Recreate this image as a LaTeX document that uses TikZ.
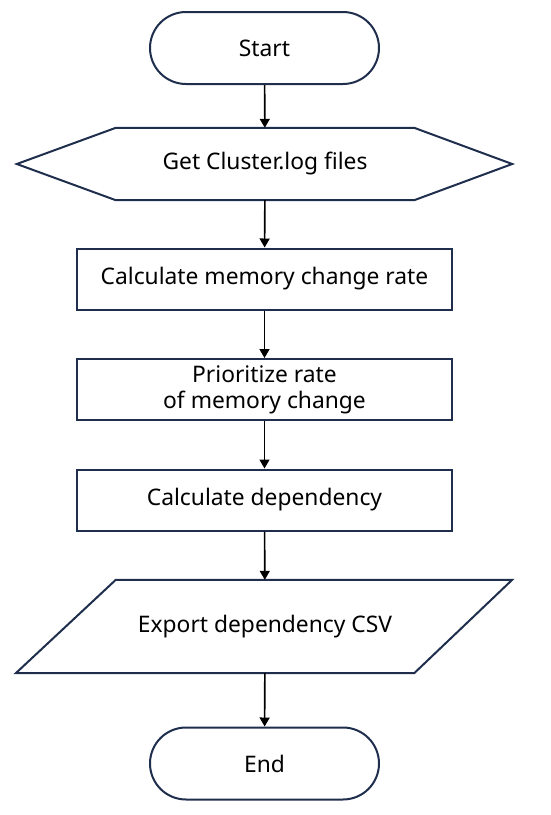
\documentclass[tikz,border=0pt]{standalone}
\usepackage{fontspec}
\setmainfont{Noto Sans}
\usetikzlibrary{arrows.meta}
\definecolor{navy}{RGB}{32,46,78}
\tikzset{
    box/.style={draw=navy, line width=2pt, fill=white, minimum width=375pt, minimum height=61pt, align=center, font=\fontsize{22.8}{28}\selectfont},
    terminal/.style={box, rounded corners=36pt, minimum width=229pt, minimum height=72pt},
    core/.style={minimum width=298pt, align=center, font=\fontsize{22.8}{28}\selectfont},
    outline/.style={draw=navy, line width=2pt, line join=miter},
    flow/.style={-{Triangle[length=9pt,width=10pt]}, line width=1.6pt}
}
\begin{document}
\begin{tikzpicture}[x=1pt, y=-1pt]
    \useasboundingbox (0,0) rectangle (550,815);

    % start / end
    \node[terminal] (start) at (264.5,48) {Start};
    \node[terminal] (stop) at (264.5,763.5) {End};

    % input hexagon
    \node[core, minimum height=72pt] (getlog) at (265,164) {Get Cluster.log files};
    \draw[outline] (getlog.north west) -- (getlog.north east)
        -- ([xshift=98pt]getlog.east) -- (getlog.south east)
        -- (getlog.south west) -- ([xshift=-99pt]getlog.west) -- cycle;

    % processing steps
    \node[box] (calc) at (264.5,279) {Calculate memory change rate};
    \node[box] (prio) at (264.5,389.5) {Prioritize rate\\[-2pt]of memory change};
    \node[box] (dep) at (264.5,500) {Calculate dependency};

    % output parallelogram
    \node[core, minimum height=93pt] (csv) at (265,626.5) {Export dependency CSV};
    \draw[outline] (csv.north west) -- ([xshift=98pt]csv.north east)
        -- (csv.south east) -- ([xshift=-100pt]csv.south west) -- cycle;

    % arrows
    \draw[flow] (start) -- (getlog);
    \draw[flow] (getlog) -- (calc);
    \draw[flow] (calc) -- (prio);
    \draw[flow] (prio) -- (dep);
    \draw[flow] (dep) -- (csv);
    \draw[flow] (csv) -- (stop);
\end{tikzpicture}
\end{document}
